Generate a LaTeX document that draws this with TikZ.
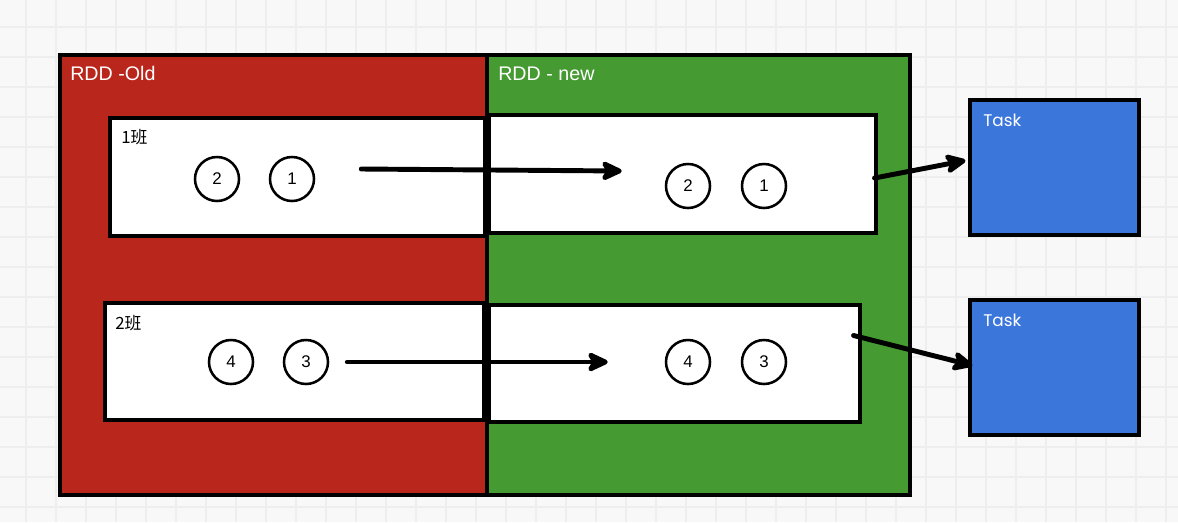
\documentclass[tikz,border=0pt]{standalone}
\usepackage{fontspec}
\setmainfont{Liberation Sans}
\newfontfamily\cjkfont{Noto Sans CJK SC}
\newfontfamily\taskfont{Poppins}
\usetikzlibrary{fit,arrows.meta}
\definecolor{rddred}{HTML}{B8261C}
\definecolor{rddgreen}{HTML}{469A32}
\definecolor{taskblue}{HTML}{3B77DB}
\definecolor{gridbg}{HTML}{F8F8F8}
\definecolor{gridline}{HTML}{EEEEEE}
\begin{document}
\begin{tikzpicture}[x=0.025cm, y=-0.025cm,
    box/.style={draw=black, line width=2.2pt, inner sep=0pt},
    title/.style={anchor=base west, inner sep=0pt, text=white, font=\fontsize{14}{16}\selectfont},
    part/.style={anchor=base west, inner sep=0pt, font=\cjkfont\fontsize{12}{14}\selectfont},
    rec/.style={draw=black, line width=1.8pt, circle, fill=white, minimum size=1.1cm, inner sep=0pt, font=\fontsize{12}{14}\selectfont},
    flow/.style={-{Stealth[length=6.5mm,width=6mm,inset=1.8mm,line join=round]}, line width=3.5pt, line cap=round}]
    % Nền lưới
    \useasboundingbox (0,0) rectangle (1178,522);
    \fill[gridbg] (0,0) rectangle (1178,522);
    \foreach \x in {26,56,...,1178} \draw[gridline, line width=1pt] (\x,0) -- (\x,522);
    \foreach \y in {27,57,...,522} \draw[gridline, line width=1pt] (0,\y) -- (1178,\y);
    
    % Hai RDD
    \node[box, fill=rddred, fit={(60,55) (487,495)}] (old) {};
    \node[box, fill=rddgreen, fit={(487,55) (910,495)}] (new) {};
    \node[title] (oldlbl) at (70,80) {RDD -Old};
    \node[title] (newlbl) at (498,80) {RDD - new};
    
    % Các phân vùng
    \node[box, fill=white, fit={(110,118) (485,236)}] (oa) {};
    \node[box, fill=white, fit={(489,115) (876,233)}] (na) {};
    \node[box, fill=white, fit={(105,303) (484,420)}] (ob) {};
    \node[box, fill=white, fit={(489,305) (860,422)}] (nb) {};
    \node[part] (oalbl) at (121,143) {1班};
    \node[part] (oblbl) at (115,329) {2班};
    
    % Bản ghi
    \node[rec] (o2) at (217,179) {2};
    \node[rec] (o1) at (292,179) {1};
    \node[rec] (o4) at (231,362) {4};
    \node[rec] (o3) at (306,362) {3};
    \node[rec] (n2) at (688,186) {2};
    \node[rec] (n1) at (764,186) {1};
    \node[rec] (n4) at (688,362) {4};
    \node[rec] (n3) at (764,362) {3};
    
    % Task
    \node[box, fill=taskblue, fit={(970,100) (1139,235)}] (t1) {};
    \node[box, fill=taskblue, fit={(970,300) (1139,435)}] (t2) {};
    \node[title, font=\taskfont\fontsize{12}{14}\selectfont] (t1lbl) at (983,126) {Task};
    \node[title, font=\taskfont\fontsize{12}{14}\selectfont] (t2lbl) at (983,326) {Task};
    
    % Mũi tên
    \draw[flow] ([shift={(46,-10)}]o1.east) -- ([shift={(-43,-15)}]n2.west);
    \draw[flow] ([shift={(18,0)}]o3.east) -- ([shift={(-57,0)}]n4.west);
    \draw[flow] ([shift={(-3,4)}]na.east) -- ([shift={(-3,-7)}]t1.west);
    \draw[flow] ([shift={(-8,-28)}]nb.east) -- ([shift={(4,-2)}]t2.west);
    
\end{tikzpicture}
\end{document}
